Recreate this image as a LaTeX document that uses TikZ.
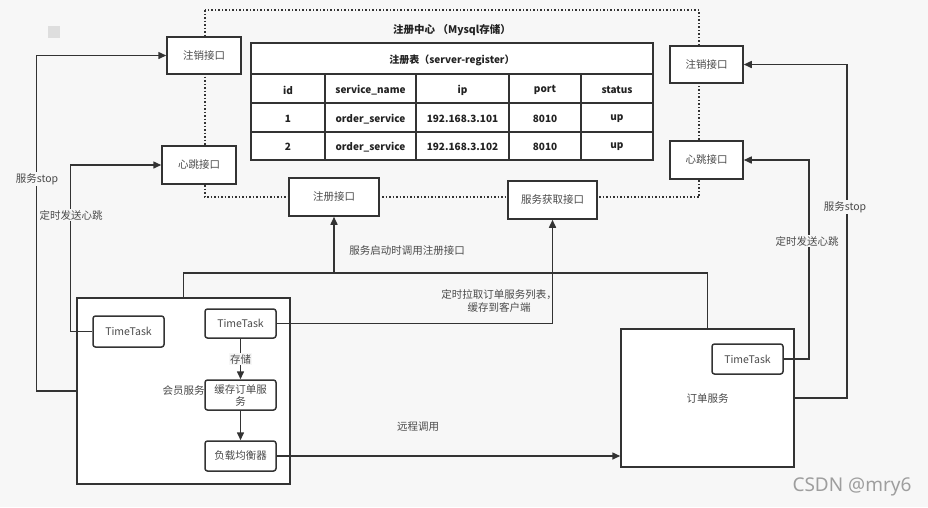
\documentclass[tikz,border=0pt]{standalone}
\usepackage{fontspec}
\setmainfont{Noto Sans CJK SC}
\newfontfamily\wmfont{Noto Sans}
\usetikzlibrary{arrows.meta}
\definecolor{bgc}{HTML}{F7F7F7}
\definecolor{ln}{HTML}{333333}
\definecolor{tx}{HTML}{4A4A4A}
\definecolor{tb}{HTML}{222222}
\tikzset{
  box/.style={draw=ln,line width=1.5pt,fill=white,text=tx,font=\fontsize{10.5}{12}\selectfont,inner sep=1pt,align=center},
  rbox/.style={box,rounded corners=2.5pt},
  conn/.style={draw=ln,line width=1.5pt},
  arr/.style={conn,-{Triangle[length=8pt,width=7pt]}},
  lbl/.style={text=tx,font=\fontsize{10.5}{12.5}\selectfont,inner sep=1pt},
  lblbg/.style={lbl,fill=bgc},
  cell/.style={text=tb,font=\bfseries\fontsize{10}{12}\selectfont,inner sep=0pt}
}
\begin{document}
\begin{tikzpicture}[x=1pt,y=-1pt]
\fill[bgc] (0,0) rectangle (928,507);
\useasboundingbox (0,0) rectangle (928,507);
\fill[black!13] (48,26) rectangle (60,38);
% registry dotted frame
\draw[ln,line width=1.5pt,dotted] (205,10) rectangle (699,197);
\node[cell,font=\bfseries\fontsize{10.5}{12}\selectfont] (title) at (452,30) {注册中心 （Mysql存储）};
% table
\draw[ln,line width=1.5pt,fill=white] (251,43) rectangle (653,160);
\foreach \yy in {74,103,132} \draw[ln,line width=1.5pt] (251,\yy) -- (653,\yy);
\foreach \xx in {325,416,509,581} \draw[ln,line width=1.5pt] (\xx,74) -- (\xx,160);
\node[cell] (tname) at (452,60) {注册表（server-register）};
\node[cell] (h1) at (288,90) {id};
\node[cell] (h2) at (370.5,90) {service\_name};
\node[cell] (h3) at (462.5,90) {ip};
\node[cell] (h4) at (545,90) {port};
\node[cell] (h5) at (617,90) {status};
\node[cell] (a1) at (288,119) {1};
\node[cell] (a2) at (370.5,119) {order\_service};
\node[cell] (a3) at (462.5,119) {192.168.3.101};
\node[cell] (a4) at (545,119) {8010};
\node[cell] (a5) at (617,119) {up};
\node[cell] (b1) at (288,147) {2};
\node[cell] (b2) at (370.5,147) {order\_service};
\node[cell] (b3) at (462.5,147) {192.168.3.102};
\node[cell] (b4) at (545,147) {8010};
\node[cell] (b5) at (617,147) {up};
% interface boxes
\node[box,minimum width=74pt,minimum height=37pt] (lzx) at (204,55.5) {注销接口};
\node[box,minimum width=74pt,minimum height=38pt] (lxt) at (199,165) {心跳接口};
\node[box,minimum width=73pt,minimum height=37pt] (rzx) at (706.5,64.5) {注销接口};
\node[box,minimum width=73pt,minimum height=38pt] (rxt) at (706.5,160) {心跳接口};
\node[box,minimum width=90pt,minimum height=38pt] (zc) at (334,197) {注册接口};
\node[box,minimum width=89pt,minimum height=38pt] (hq) at (552.5,200) {服务获取接口};
% member service
\node[box,minimum width=213pt,minimum height=186pt] (member) at (183.5,391) {会员服务};
\node[rbox,minimum width=71pt,minimum height=31pt] (tt1) at (128.5,331.5) {TimeTask};
\node[rbox,minimum width=71pt,minimum height=29pt] (tt2) at (240.5,323.5) {TimeTask};
\node[rbox,minimum width=71pt,minimum height=30pt] (cache) at (240.5,395) {缓存订单服\\务};
\node[rbox,minimum width=71pt,minimum height=30pt] (lb) at (240.5,456) {负载均衡器};
% order service
\node[box,minimum width=173pt,minimum height=138pt] (order) at (707.5,398) {订单服务};
\node[rbox,minimum width=71pt,minimum height=30pt] (tt3) at (747.5,359) {TimeTask};
% connectors
\coordinate (bus) at (0,273);
\draw[conn] (member.north) -- (member.north |- bus) -| (order.north);
\draw[arr] (zc.south |- bus) -- (zc.south);
\draw[arr] (tt2.east) -| (hq.south);
\draw[arr] (tt2.south) -- (cache.north);
\node[lblbg] (cc) at (240.5,359) {存储};
\draw[arr] (cache.south) -- (lb.north);
\draw[arr] (lb.east) -- (order.west |- lb.east);
\draw[arr] (member.west) -- ++(-40,0) |- (lzx.west);
\draw[arr] (tt1.west) -- ++(-22,0) |- (lxt.west);
\draw[arr] (tt3.east) -- ++(25,0) |- (rxt.east);
\draw[arr] (order.east) -- ++(52,0) |- (rzx.east);
% labels
\node[lblbg] (l1) at (37,179) {服务stop};
\node[lblbg] (l2) at (71,215) {定时发送心跳};
\node[lblbg] (l3) at (845,207) {服务stop};
\node[lblbg] (l4) at (807,241) {定时发送心跳};
\node[lbl] (l5) at (407,251) {服务启动时调用注册接口};
\node[lbl,align=center] (l6) at (499,301) {定时拉取订单服务列表，\\缓存到客户端};
\node[lbl] (l7) at (418,427) {远程调用};
\node[text=black!38,font=\wmfont\fontsize{19}{21}\selectfont,inner sep=0pt] (wm) at (852,487) {CSDN @mry6};
\end{tikzpicture}
\end{document}
